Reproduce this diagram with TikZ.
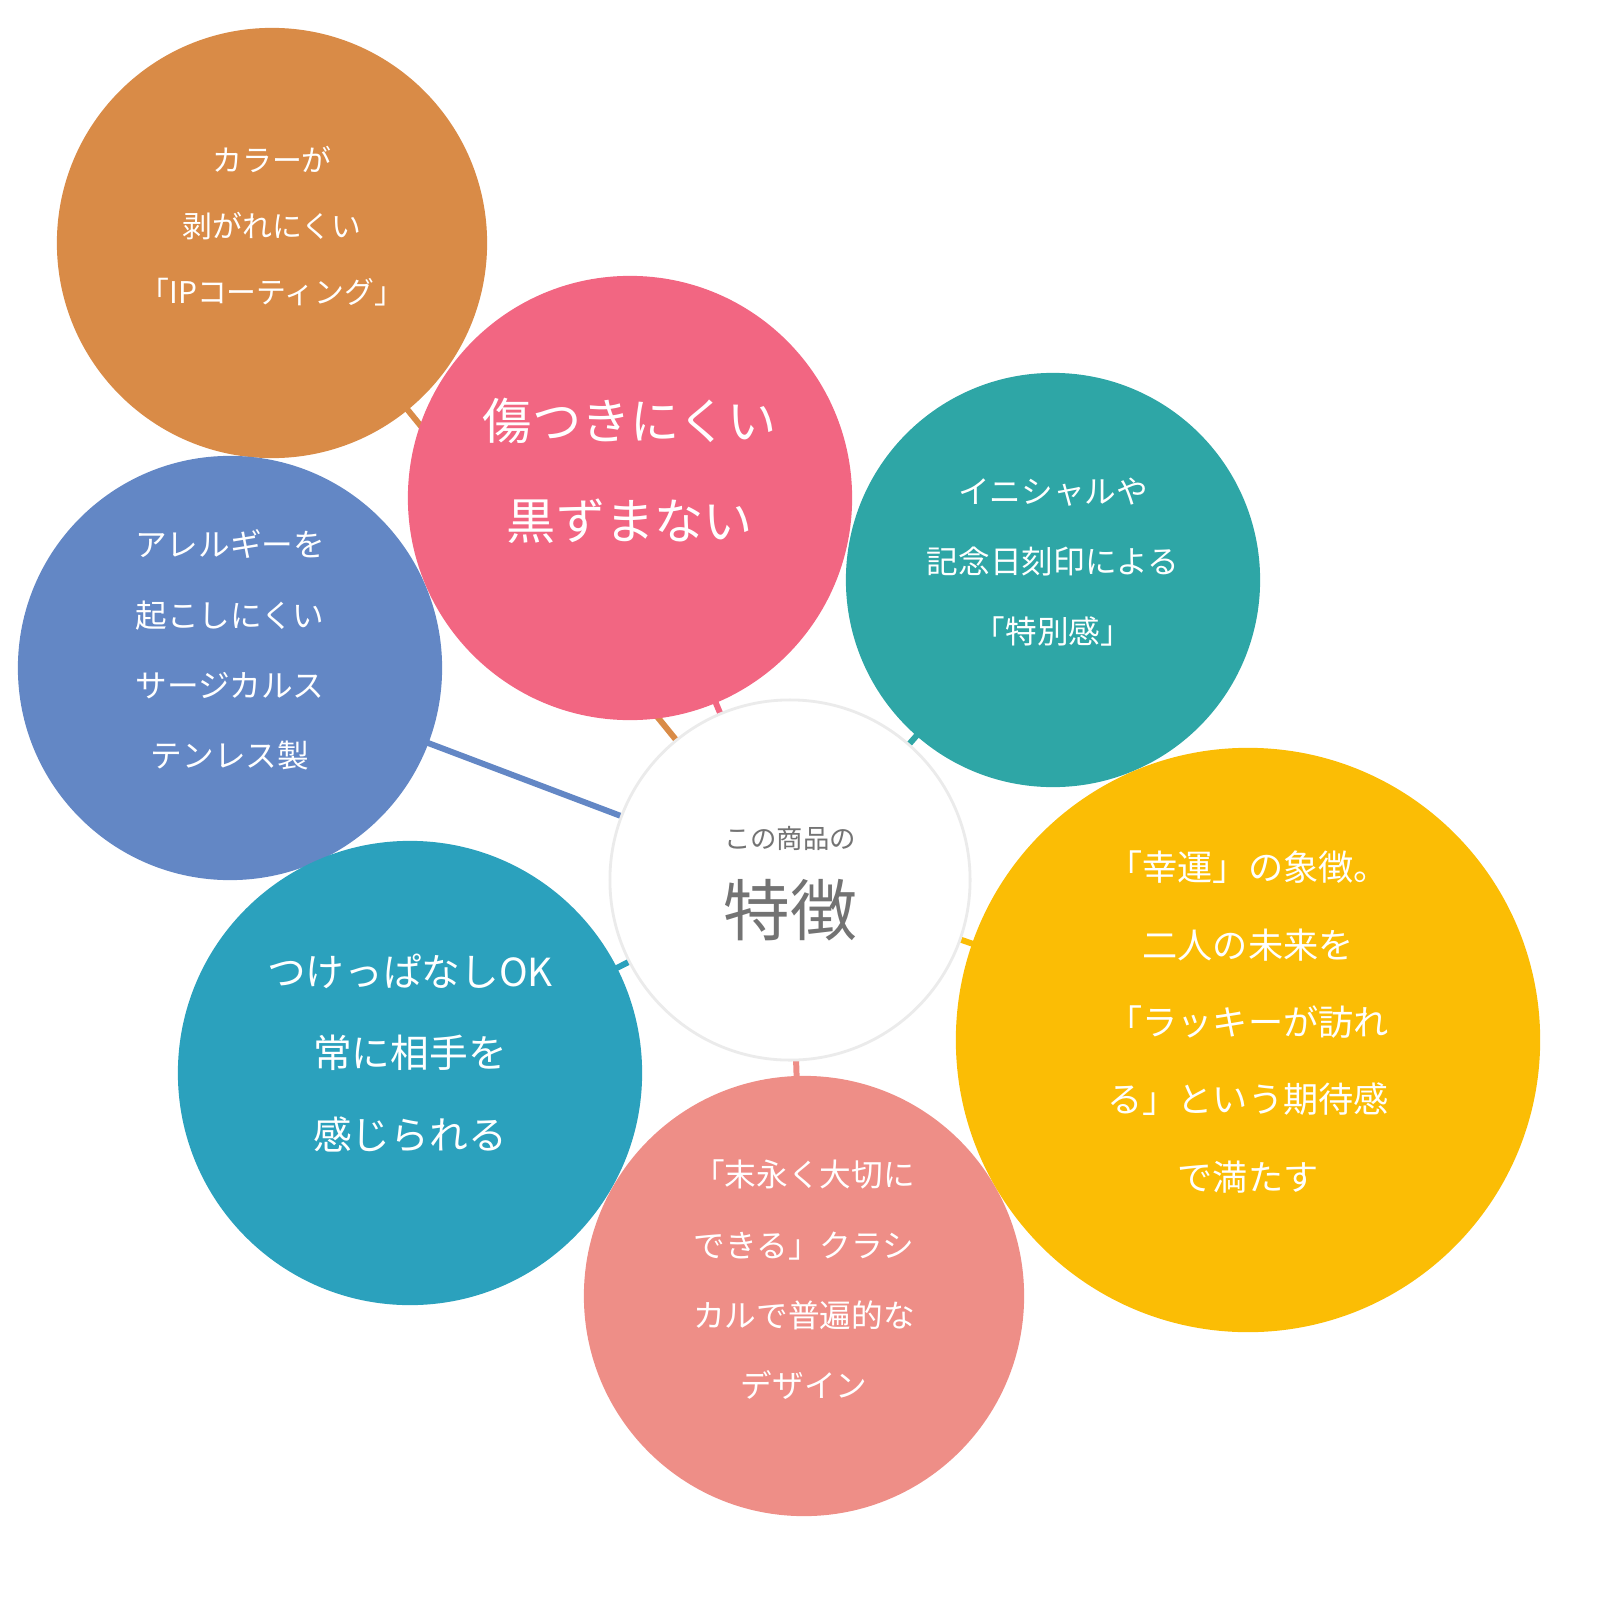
\documentclass[tikz,border=0pt]{standalone}
\usepackage{fontspec}
\setmainfont{Noto Sans CJK JP}
\definecolor{cOrange}{HTML}{D98B47}
\definecolor{cPink}{HTML}{F26682}
\definecolor{cTeal}{HTML}{2EA6A6}
\definecolor{cBlue}{HTML}{6387C5}
\definecolor{cYellow}{HTML}{FBBD05}
\definecolor{cCyan}{HTML}{2BA1BD}
\definecolor{cSalmon}{HTML}{EE8E87}
\tikzset{
  bubble/.style={circle,fill=#1,inner sep=0pt},
  link/.style={line width=1.7pt,draw=#1},
  say/.style={text=white,align=center}
}
\begin{document}
\begin{tikzpicture}[x=0.01cm,y=-0.01cm]
  \useasboundingbox (0,0) rectangle (1600,1600);
  % centres
  \coordinate (mid) at (790,880);
  \coordinate (or) at (272,243);
  \coordinate (pk) at (630,498);
  \coordinate (tl) at (1053,580);
  \coordinate (bl) at (230,668);
  \coordinate (yl) at (1248,1040);
  \coordinate (cy) at (410,1073);
  \coordinate (sl) at (804,1296);
  % connectors
  \draw[link=cOrange] (mid) -- (or);
  \draw[link=cPink] (mid) -- (pk);
  \draw[link=cTeal] (mid) -- (tl);
  \draw[link=cBlue] (mid) -- (bl);
  \draw[link=cYellow] (mid) -- (yl);
  \draw[link=cCyan] (mid) -- (cy);
  \draw[link=cSalmon] (mid) -- (sl);
  % bubbles
  \node[bubble=cOrange,minimum size=4.3cm] (orB) at (or) {};
  \node[bubble=cBlue,minimum size=4.24cm] (blB) at (bl) {};
  \node[bubble=cPink,minimum size=4.44cm] (pkB) at (pk) {};
  \node[bubble=cTeal,minimum size=4.14cm] (tlB) at (tl) {};
  \node[bubble=cCyan,minimum size=4.64cm] (cyB) at (cy) {};
  \node[bubble=cSalmon,minimum size=4.4cm] (slB) at (sl) {};
  \node[bubble=cYellow,minimum size=5.84cm] (ylB) at (yl) {};
  \node[bubble=white,draw=black!8,line width=0.8pt,minimum size=3.6cm] (midB) at (mid) {};
  % texts
  \node[say,font=\fontsize{8.5}{18.8}\selectfont] (orT) at (272,226) {カラーが\\剥がれにくい\\「IPコーティング」};
  \node[say,font=\fontsize{14}{28.5}\selectfont] (pkT) at (630,471) {傷つきにくい\\黒ずまない};
  \node[say,font=\fontsize{9}{20}\selectfont] (tlT) at (1053,562) {イニシャルや\\記念日刻印による\\「特別感」};
  \node[say,font=\fontsize{9}{20}\selectfont] (blT) at (230,650) {アレルギーを\\起こしにくい\\サージカルス\\テンレス製};
  \node[say,font=\fontsize{11}{23.3}\selectfont] (cyT) at (410,1053) {つけっぱなしOK\\常に相手を\\感じられる};
  \node[say,font=\fontsize{10}{22}\selectfont] (ylT) at (1248,1022) {「幸運」の象徴。\\二人の未来を\\「ラッキーが訪れ\\る」という期待感\\で満たす};
  \node[say,font=\fontsize{9}{20}\selectfont] (slT) at (804,1280) {「末永く大切に\\できる」クラシ\\カルで普遍的な\\デザイン};
  \node[text=black!55,font=\fontsize{7.5}{9}\selectfont] (midA) at (790,838) {この商品の};
  \node[text=black!55,font=\fontsize{19}{22}\selectfont] (midT) at (790,910) {特徴};
\end{tikzpicture}
\end{document}
